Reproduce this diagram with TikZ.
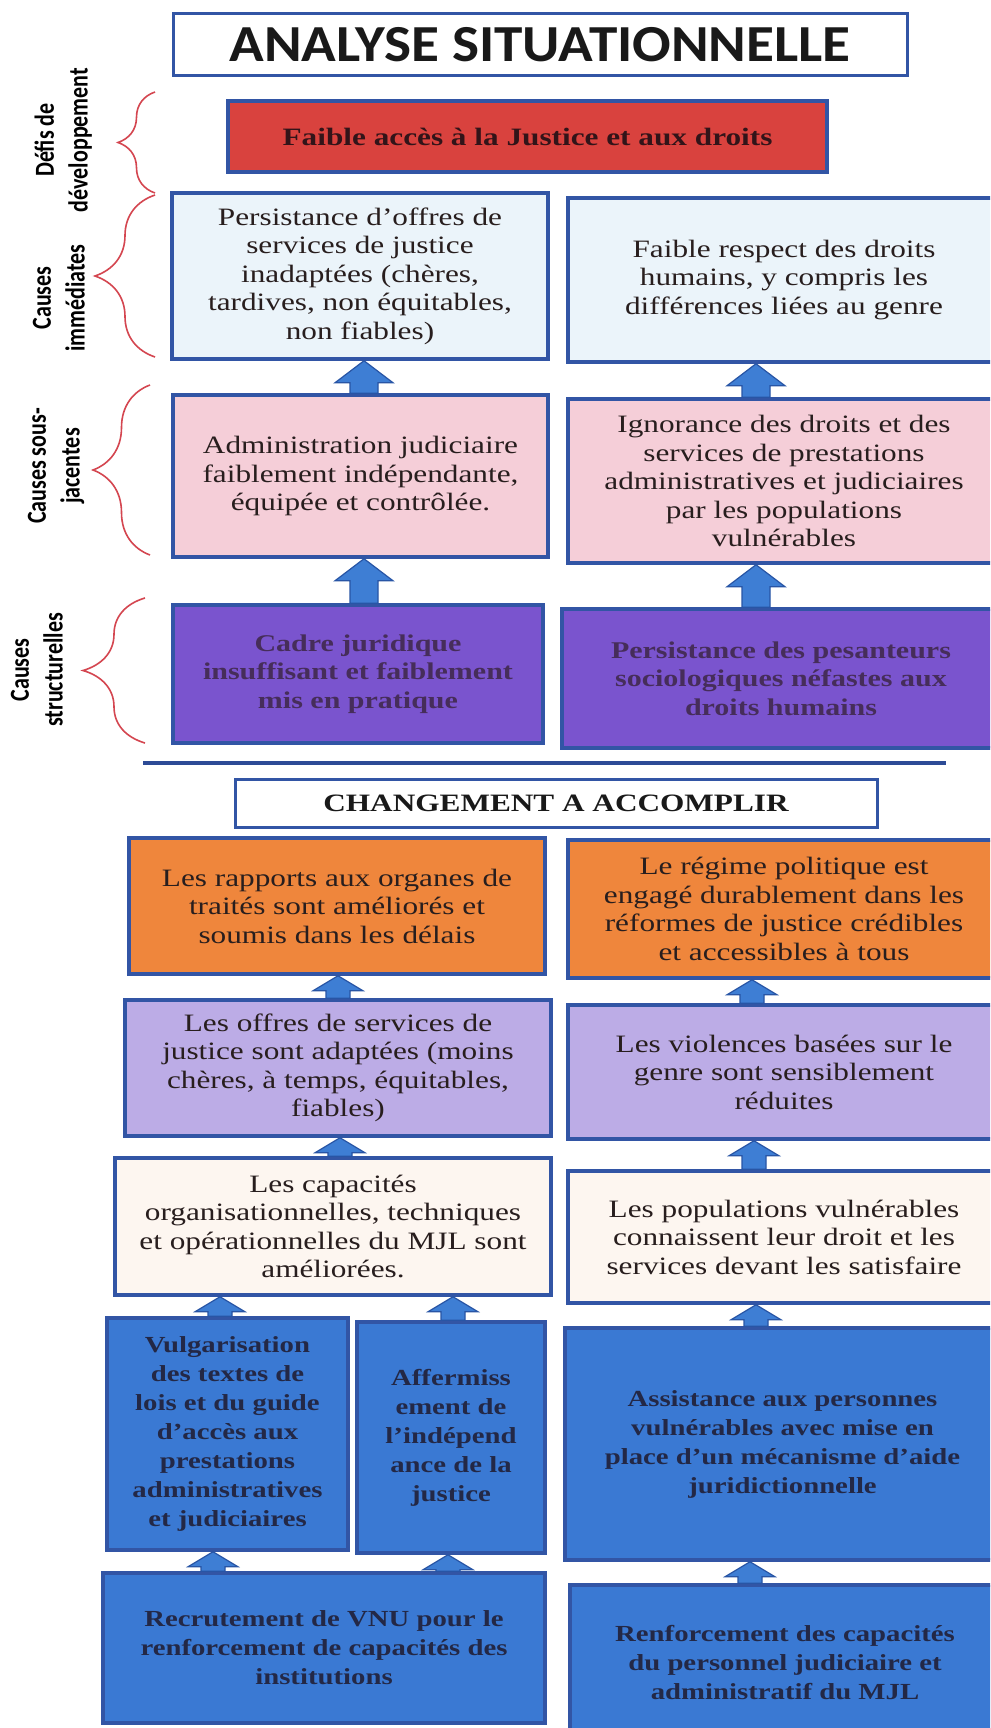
\documentclass[tikz,border=0pt]{standalone}
\usepackage{fontspec}
\setmainfont{Liberation Serif}[FakeStretch=1.25]
\newfontfamily\carl{Carlito}
\newfontfamily\carltitle{Carlito}[FakeStretch=1.1]
\usetikzlibrary{decorations.pathreplacing,calc}
\definecolor{bordc}{RGB}{50,85,165}
\definecolor{txtc}{RGB}{40,30,30}
\definecolor{redf}{RGB}{217,66,62}
\definecolor{rowa}{RGB}{235,244,250}
\definecolor{rowb}{RGB}{245,206,216}
\definecolor{rowc}{RGB}{122,84,206}
\definecolor{purtxt}{RGB}{70,45,90}
\definecolor{oranf}{RGB}{239,134,60}
\definecolor{lavf}{RGB}{188,172,230}
\definecolor{creamf}{RGB}{253,246,240}
\definecolor{bluef}{RGB}{58,121,211}
\definecolor{bluetxt}{RGB}{35,40,70}
\definecolor{arrf}{RGB}{62,126,212}
\definecolor{arrd}{RGB}{40,85,165}
\definecolor{bracec}{RGB}{212,70,80}
\definecolor{sepc}{RGB}{45,75,150}
\definecolor{redtxt}{RGB}{50,20,25}
\tikzset{
  box/.style={draw=bordc, line width=3.5pt, rectangle, align=center, inner sep=0pt,
    font=\fontsize{25}{28.5}\selectfont, text=txtc},
  bbox/.style={box, font=\bfseries\fontsize{25}{28.5}\selectfont},
  blbox/.style={box, fill=bluef, text=bluetxt, font=\bfseries\fontsize{23}{29}\selectfont},
  side/.style={rotate=90, inner sep=0pt, text=black, font=\carl\bfseries\fontsize{22}{27}\selectfont},
  brc/.style={draw=bracec, line width=1.6pt, decorate, decoration={brace, amplitude=#1}},
  arr/.style={fill=arrf, draw=arrd, line width=1.2pt, line join=miter},
}
\newcommand{\sidetext}[2]{\scalebox{1}[1.25]{\begin{tabular}{@{}c@{}}#1\\#2\end{tabular}}}
\newcommand{\blockarr}[6]{%
  \coordinate (ax) at (#1,0);
  \coordinate (at) at (ax |- #2.south);
  \coordinate (ab) at (ax |- #3.north);
  \filldraw[arr] (at) -- ($(at)+(#4,#6)$) -- ($(at)+(#5,#6)$) -- ($(ab)+(#5,0)$)
    -- ($(ab)+(-#5,0)$) -- ($(at)+(-#5,#6)$) -- ($(at)+(-#4,#6)$) -- cycle;
}
\begin{document}
\begin{tikzpicture}[x=1pt,y=-1pt]
\clip (0,0) rectangle (990,1728);
\fill[white] (0,0) rectangle (990,1728);

% title
\node[draw=bordc, line width=3pt, fill=white, minimum width=734pt, minimum height=62pt,
  inner sep=0pt, text=black!90, font=\carltitle\bfseries\fontsize{52}{52}\selectfont]
  (title) at (540,45) {ANALYSE SITUATIONNELLE};

% side labels
\node[side] (ldefis) at (64,140) {\sidetext{Défis de}{développement}};
\node[side] (limm) at (61,298) {\sidetext{Causes}{immédiates}};
\node[side] (lsous) at (56,466) {\sidetext{Causes sous-}{jacentes}};
\node[side] (lstruct) at (39,670) {\sidetext{Causes}{structurelles}};

% braces
\draw[brc=37] (155,193) -- (155,92);
\draw[brc=60] (155,357) -- (155,195);
\draw[brc=57] (150,555) -- (150,385);
\draw[brc=62] (145,743) -- (145,598);

% analysis boxes
\node[bbox, fill=redf, text=redtxt, minimum width=599pt, minimum height=71pt]
  (defi) at (527.5,136.5) {Faible accès à la Justice et aux droits};
\node[box, fill=rowa, minimum width=376pt, minimum height=166pt] (ial) at (360,276)
  {Persistance d’offres de\\services de justice\\inadaptées (chères,\\tardives, non équitables,\\non fiables)};
\node[box, fill=rowa, minimum width=432pt, minimum height=164pt] (iar) at (784,280)
  {Faible respect des droits\\humains, y compris les\\différences liées au genre};
\node[box, fill=rowb, minimum width=375pt, minimum height=162pt] (sjl) at (360.5,476)
  {Administration judiciaire\\faiblement indépendante,\\équipée et contrôlée.};
\node[box, fill=rowb, minimum width=432pt, minimum height=164pt] (sjr) at (784,481)
  {Ignorance des droits et des\\services de prestations\\administratives et judiciaires\\par les populations\\vulnérables};
\node[bbox, fill=rowc, text=purtxt, font=\bfseries\fontsize{24}{28.5}\selectfont, minimum width=370pt, minimum height=138pt] (stl) at (358,674)
  {Cadre juridique\\insuffisant et faiblement\\mis en pratique};
\node[bbox, fill=rowc, text=purtxt, font=\bfseries\fontsize{24}{28.5}\selectfont, minimum width=438pt, minimum height=139pt] (str) at (781,678.5)
  {Persistance des pesanteurs\\sociologiques néfastes aux\\droits humains};

\blockarr{364}{ial}{sjl}{29}{14}{22}
\blockarr{756}{iar}{sjr}{29}{14}{22}
\blockarr{364}{sjl}{stl}{29}{14}{22}
\blockarr{756}{sjr}{str}{29}{14}{22}

% separator
\coordinate (sepa) at (143,763);
\coordinate (sepb) at (946,763);
\draw[sepc, line width=4pt] (sepa) -- (sepb);

% change section
\node[bbox, fill=white, line width=3pt, text=black!90, minimum width=642pt, minimum height=48pt]
  (chg) at (556,803) {CHANGEMENT A ACCOMPLIR};
\node[box, fill=oranf, minimum width=416pt, minimum height=136pt] (orl) at (337,906)
  {Les rapports aux organes de\\traités sont améliorés et\\soumis dans les délais};
\node[box, fill=oranf, minimum width=432pt, minimum height=138pt] (orr) at (784,909)
  {Le régime politique est\\engagé durablement dans les\\réformes de justice crédibles\\et accessibles à tous};
\node[box, fill=lavf, minimum width=426pt, minimum height=136pt] (lvl) at (338,1068)
  {Les offres de services de\\justice sont adaptées (moins\\chères, à temps, équitables,\\fiables)};
\node[box, fill=lavf, minimum width=432pt, minimum height=134pt] (lvr) at (784,1072)
  {Les violences basées sur le\\genre sont sensiblement\\réduites};
\node[box, fill=creamf, minimum width=436pt, minimum height=137pt] (crl) at (333,1226.5)
  {Les capacités\\organisationnelles, techniques\\et opérationnelles du MJL sont\\améliorées.};
\node[box, fill=creamf, minimum width=432pt, minimum height=132pt] (crr) at (784,1237)
  {Les populations vulnérables\\connaissent leur droit et les\\services devant les satisfaire};
\node[blbox, minimum width=241pt, minimum height=232pt] (bl1) at (227.5,1434)
  {Vulgarisation\\des textes de\\lois et du guide\\d’accès aux\\prestations\\administratives\\et judiciaires};
\node[blbox, minimum width=188pt, minimum height=231pt] (bl2) at (451,1437.5)
  {Affermiss\\ement de\\l’indépend\\ance de la\\justice};
\node[blbox, minimum width=435pt, minimum height=232pt] (blr) at (782.5,1444)
  {Assistance aux personnes\\vulnérables avec mise en\\place d’un mécanisme d’aide\\juridictionnelle};
\node[blbox, minimum width=442pt, minimum height=150pt] (btl) at (324,1648)
  {Recrutement de VNU pour le\\renforcement de capacités des\\institutions};
\node[blbox, minimum width=430pt, minimum height=155pt] (btr) at (785,1662.5)
  {Renforcement des capacités\\du personnel judiciaire et\\administratif du MJL};

\blockarr{338}{orl}{lvl}{25}{12}{15}
\blockarr{752}{orr}{lvr}{25}{12}{15}
\blockarr{340}{lvl}{crl}{25}{12}{15}
\blockarr{754}{lvr}{crr}{25}{12}{15}
\blockarr{220}{crl}{bl1}{25}{12}{15}
\blockarr{453}{crl}{bl2}{25}{12}{15}
\blockarr{756}{crr}{blr}{25}{12}{15}
\blockarr{213}{bl1}{btl}{25}{12}{15}
\blockarr{448}{bl2}{btl}{25}{12}{15}
\blockarr{750}{blr}{btr}{25}{12}{15}
\end{tikzpicture}
\end{document}
